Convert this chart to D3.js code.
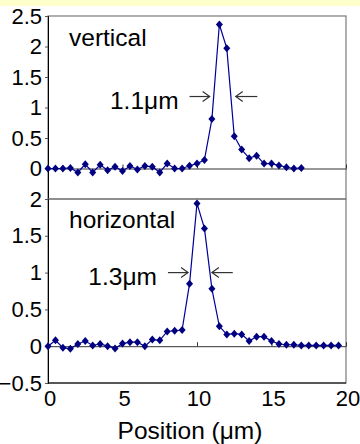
<!DOCTYPE html>
<html>
<head>
<meta charset="utf-8">
<script src="https://cdn.jsdelivr.net/npm/d3@7"></script>
<style>
  body { margin: 0; background: #fff; }
  text { font-family: "Liberation Sans", Arial, sans-serif; fill: #000; }
</style>
</head>
<body>
<div id="chart"></div>
<script>
// position step is 0.5 um for both scans
const vertPos = d3.range(0, 17.01, 0.5);
const vertVal = [0, 0, 0, 0.01, -0.065, 0.07, -0.065, 0.06, -0.03, 0.03,
                 -0.04, 0.04, -0.015, 0.04, 0.03, -0.065, 0.08, 0, 0, 0.045,
                 0.08, 0.14, 0.81, 2.36, 1.97, 0.53, 0.31, 0.17, 0.21, 0.08,
                 0.08, 0.05, 0.02, 0, 0.01];
const horzPos = d3.range(0, 19.51, 0.5);
const horzVal = [0, 0.08, -0.02, -0.035, 0.03, 0.07, 0.01, 0.03, 0, -0.03,
                 0.035, 0.055, 0.055, 0, 0.09, 0.08, 0.2, 0.21, 0.22, 0.85,
                 1.94, 1.6, 0.78, 0.27, 0.16, 0.17, 0.16, 0.07, 0.13, 0.13,
                 0.07, 0.03, 0.02, 0.02, 0.01, 0.01, 0.01, 0.01, 0.01, 0.01];
const xTicks = [0, 5, 10, 15, 20];
const vertTicks = [0, 0.5, 1, 1.5, 2, 2.5];
const horzTicks = [-0.5, 0, 0.5, 1, 1.5, 2];
// FWHM arrows: [tail, tip] in um, y in data units
const vertArrows = { y: 1.18, left: [9.5, 10.85], right: [14.05, 12.6], label: "1.1\u03bcm" };
const horzArrows = { y: 1.0, left: [8.05, 9.4], right: [12.4, 11.0], label: "1.3\u03bcm" };

const W = 360, H = 444;
const left = 48, right = 346;

const svg = d3.select("#chart").append("svg")
    .attr("width", W)
    .attr("height", H);

svg.append("rect").attr("x", 0).attr("y", 0).attr("width", W).attr("height", 6)
    .attr("fill", "#ffffcc");

const x = d3.scaleLinear().domain([0, 20]).range([left, right]);

function drawPanel(top, bottom, ydomain, ticks, pos, vals, name, arrows, showX) {
    const y = d3.scaleLinear().domain(ydomain).range([bottom, top]);
    const g = svg.append("g");

    // plot frame
    g.append("rect")
        .attr("x", left).attr("y", top)
        .attr("width", right - left).attr("height", bottom - top)
        .attr("fill", "none").attr("stroke", "#7a7a7a").attr("stroke-width", 1.2);

    // y axis
    const ya = g.append("g")
        .attr("transform", `translate(${left},0)`)
        .call(d3.axisLeft(y).tickValues(ticks).tickSize(3).tickPadding(3)
            .tickFormat(d => d3.format("")(d)));
    ya.selectAll(".domain").attr("stroke", "#000");
    ya.selectAll("text").style("font-size", "22px");
    ya.selectAll(".tick line").attr("stroke", "#555");

    // zero line with upward ticks
    const xa = g.append("g")
        .attr("transform", `translate(0,${y(0)})`)
        .call(d3.axisTop(x).tickValues(xTicks).tickSize(4).tickSizeOuter(0).tickFormat(""));
    xa.selectAll(".domain").attr("stroke", "#333");
    xa.selectAll(".tick line").attr("stroke", "#333");

    if (showX) {
        g.append("line").attr("x1", left).attr("x2", right)
            .attr("y1", bottom).attr("y2", bottom).attr("stroke", "#000");
        g.selectAll(".xlab").data(xTicks).enter().append("text")
            .attr("class", "xlab")
            .attr("x", d => x(d) + 2)
            .attr("y", bottom + 23)
            .attr("text-anchor", "middle")
            .style("font-size", "22px")
            .text(d => d);
    }

    const line = d3.line().x((d, i) => x(pos[i])).y(d => y(d));
    g.append("path").datum(vals)
        .attr("d", line)
        .attr("fill", "none")
        .attr("stroke", "#000099")
        .attr("stroke-width", 1.2);

    g.selectAll(".pt").data(vals).enter().append("path")
        .attr("class", "pt")
        .attr("transform", (d, i) => `translate(${x(pos[i])},${y(d)})`)
        .attr("d", "M0,-4L3.5,0L0,4L-3.5,0Z")
        .attr("fill", "#000080");

    g.append("text")
        .attr("x", left + 21).attr("y", top + (showX ? 29 : 30))
        .style("font-size", "24.5px")
        .text(name);

    // FWHM arrows
    const ay = y(arrows.y);
    [arrows.left, arrows.right].forEach(a => {
        const x0 = x(a[0]), x1 = x(a[1]);
        const dir = x1 > x0 ? 1 : -1;
        g.append("line").attr("x1", x0).attr("x2", x1).attr("y1", ay).attr("y2", ay)
            .attr("stroke", "#333").attr("stroke-width", 1.2);
        g.append("path")
            .attr("d", `M${x1 - dir * 7},${ay - 5}L${x1},${ay}L${x1 - dir * 7},${ay + 5}`)
            .attr("fill", "none").attr("stroke", "#333").attr("stroke-width", 1.2);
    });
    g.append("text")
        .attr("x", x(arrows.left[0]) - 11).attr("y", ay + 12)
        .attr("text-anchor", "end")
        .style("font-size", "24.5px")
        .text(arrows.label);
}

drawPanel(16, 199, [-0.5, 2.5], vertTicks, vertPos, vertVal, "vertical", vertArrows, false);
drawPanel(199, 383, [-0.5, 2], horzTicks, horzPos, horzVal, "horizontal", horzArrows, true);

svg.append("text")
    .attr("x", 190)
    .attr("y", 439)
    .attr("text-anchor", "middle")
    .style("font-size", "24.5px")
    .text("Position (\u03bcm)");
</script>
</body>
</html>
